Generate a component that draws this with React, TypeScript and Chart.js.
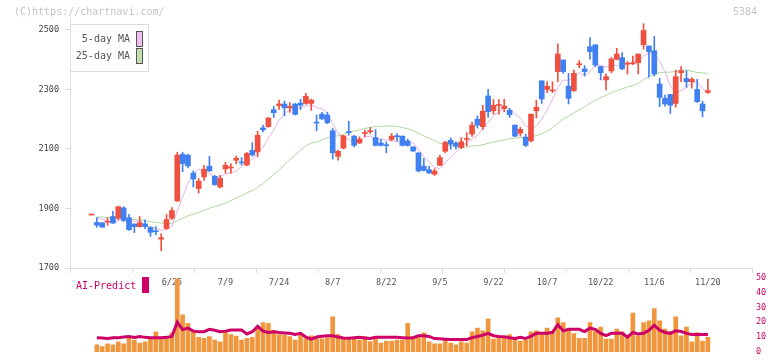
import React, { useEffect, useRef } from 'react';
import { Chart, registerables } from 'chart.js';

Chart.register(...registerables);

// ---------- data ----------
const dates = ['6/4','6/5','6/6','6/9','6/10','6/11','6/12','6/13','6/16','6/17','6/18','6/19','6/20','6/23','6/24','6/25','6/26','6/27','6/30','7/1','7/2','7/3','7/4','7/7','7/8','7/9','7/10','7/11','7/14','7/15','7/16','7/17','7/18','7/22','7/23','7/24','7/25','7/28','7/29','7/30','7/31','8/1','8/4','8/5','8/6','8/7','8/8','8/12','8/13','8/14','8/15','8/18','8/19','8/20','8/21','8/22','8/25','8/26','8/27','8/28','8/29','9/1','9/2','9/3','9/4','9/5','9/8','9/9','9/10','9/11','9/12','9/16','9/17','9/18','9/19','9/22','9/24','9/25','9/26','9/29','9/30','10/1','10/2','10/3','10/6','10/7','10/8','10/9','10/10','10/14','10/15','10/16','10/17','10/20','10/21','10/22','10/23','10/24','10/27','10/28','10/29','10/30','10/31','11/4','11/5','11/6','11/7','11/10','11/11','11/12','11/13','11/14','11/17','11/18','11/19','11/20'];

const open = [
  1878,1853,1852,1854,1873,1867,1902,1869,1848,1839,
  1848,1836,1823,1797,1833,1867,1925,2082,2079,2019,
  1967,2006,2042,2008,1972,2033,2036,2062,2055,2046,
  2095,2090,2171,2175,2232,2245,2251,2238,2251,2254,
  2253,2253,2189,2217,2214,2161,2075,2103,2158,2143,
  2120,2152,2158,2138,2120,2113,2132,2143,2143,2127,
  2107,2087,2042,2030,2015,2045,2092,2129,2120,2105,
  2132,2150,2200,2175,2278,2228,2246,2236,2230,2180,
  2153,2140,2127,2228,2329,2300,2295,2360,2399,2311,
  2296,2383,2369,2444,2450,2377,2332,2362,2401,2407,
  2385,2386,2390,2450,2446,2430,2318,2270,2283,2253,
  2356,2337,2326,2300,2251,2290,
];
const high = [
  1880,1869,1852,1869,1890,1906,1906,1880,1848,1873,
  1862,1839,1839,1815,1880,1903,2089,2089,2083,2026,
  2001,2045,2075,2011,2011,2055,2051,2076,2071,2088,
  2121,2160,2180,2206,2243,2264,2261,2256,2253,2267,
  2287,2268,2214,2223,2223,2169,2096,2146,2193,2146,
  2141,2163,2172,2165,2132,2124,2152,2152,2144,2133,
  2107,2087,2068,2042,2034,2079,2126,2137,2124,2138,
  2155,2190,2211,2247,2300,2266,2266,2267,2236,2181,
  2173,2150,2217,2264,2329,2326,2326,2453,2399,2354,
  2365,2397,2380,2474,2450,2377,2352,2408,2438,2424,
  2394,2412,2419,2521,2446,2478,2337,2281,2283,2365,
  2377,2363,2340,2334,2261,2335,
];
const low = [
  1878,1837,1837,1843,1850,1862,1856,1826,1819,1837,
  1832,1806,1812,1758,1830,1862,1924,2023,2036,1972,
  1952,1994,2025,1978,1969,2019,2019,2050,2046,2044,
  2076,2073,2157,2173,2206,2233,2211,2223,2214,2232,
  2250,2230,2161,2199,2185,2066,2062,2101,2146,2107,
  2118,2141,2152,2110,2109,2087,2127,2127,2110,2109,
  2092,2023,2026,2018,2011,2044,2087,2099,2099,2101,
  2110,2142,2170,2165,2206,2217,2217,2225,2206,2141,
  2143,2108,2124,2204,2253,2289,2289,2326,2354,2251,
  2293,2373,2345,2402,2377,2332,2298,2356,2399,2366,
  2352,2383,2352,2435,2341,2345,2242,2244,2219,2240,
  2326,2307,2304,2256,2208,2287,
];
const close = [
  1880,1844,1837,1855,1851,1906,1860,1829,1839,1852,
  1839,1820,1822,1802,1863,1893,2079,2051,2043,1999,
  1992,2032,2026,1980,2001,2045,2037,2069,2053,2085,
  2080,2146,2164,2204,2222,2251,2238,2243,2216,2247,
  2277,2264,2187,2201,2188,2087,2092,2144,2155,2112,
  2133,2155,2160,2112,2112,2111,2143,2141,2112,2112,
  2093,2026,2028,2019,2026,2071,2122,2116,2109,2124,
  2134,2180,2180,2227,2225,2247,2247,2244,2215,2143,
  2166,2112,2217,2240,2268,2311,2296,2419,2360,2270,
  2354,2384,2360,2427,2382,2356,2343,2402,2419,2369,
  2387,2387,2419,2498,2427,2352,2273,2251,2247,2343,
  2363,2326,2334,2259,2228,2296,
];
const ma5 = [
  null,1868,1864,1858,1853,1859,1862,1860,1857,1857,
  1844,1836,1834,1827,1829,1840,1892,1938,1986,2013,
  2033,2023,2018,2006,2006,2017,2018,2026,2041,2058,
  2065,2087,2106,2136,2163,2197,2216,2232,2234,2239,
  2244,2249,2238,2235,2223,2185,2151,2142,2133,2118,
  2127,2140,2143,2134,2134,2130,2128,2124,2124,2124,
  2120,2097,2074,2056,2038,2034,2053,2071,2089,2108,
  2121,2133,2145,2169,2189,2212,2225,2238,2236,2219,
  2203,2176,2171,2176,2201,2230,2266,2307,2331,2331,
  2340,2357,2346,2359,2381,2382,2374,2382,2380,2378,
  2384,2393,2396,2412,2424,2417,2394,2360,2310,2293,
  2295,2306,2323,2325,2302,2289,
];
const ma25 = [
  null,1872,1871,1870,1869,1868,1866,1865,1863,1861,
  1859,1856,1853,1851,1850,1850,1859,1867,1875,1881,
  1887,1894,1901,1906,1912,1918,1926,1935,1943,1953,
  1960,1971,1984,1999,2014,2030,2047,2064,2080,2096,
  2111,2119,2124,2130,2138,2142,2144,2149,2156,2160,
  2164,2169,2172,2175,2176,2177,2177,2176,2172,2168,
  2161,2153,2144,2136,2128,2119,2114,2111,2107,2105,
  2106,2110,2111,2114,2119,2123,2127,2130,2135,2136,
  2138,2137,2140,2145,2151,2160,2171,2186,2200,2210,
  2221,2232,2241,2254,2264,2273,2280,2289,2296,2302,
  2308,2313,2320,2332,2343,2350,2357,2358,2358,2361,
  2364,2365,2361,2357,2356,2353,
];
const volume = [
  null,4.8,3.6,5.4,4.8,6.8,5.4,9.6,7.9,6.0,
  6.8,9.2,13.6,9.8,10.4,12.9,49.2,25.0,19.2,13.8,
  9.8,9.2,10.4,7.9,6.8,13.6,11.7,10.7,7.9,9.2,
  9.8,15.4,19.8,19.2,14.6,11.7,11.3,10.4,7.9,12.2,
  8.8,10.8,8.8,8.8,9.6,23.6,11.7,9.8,8.8,8.8,
  7.9,10.4,6.9,8.8,6.0,7.3,7.3,7.9,7.9,19.2,
  10.4,9.6,12.9,6.8,5.4,5.4,8.3,6.0,4.8,6.8,
  6.0,13.6,16.1,14.2,22.3,8.6,9.8,9.8,11.7,8.6,
  7.3,7.9,13.6,14.2,11.7,16.1,13.6,22.9,19.8,14.8,
  12.3,9.2,9.2,19.8,14.2,16.7,8.6,8.6,15.4,13.6,
  10.4,26.1,10.9,19.8,21.0,29.2,21.0,15.4,13.6,23.6,
  10.9,16.7,6.8,13.1,7.3,9.8,
];
const aiPredict = [
  null,9.6,9.4,9.0,9.6,9.6,10.0,10.4,9.8,10.4,
  9.8,9.6,9.6,9.6,9.8,10.4,20.0,15.0,16.0,14.0,
  13.6,13.6,15.2,14.6,13.6,14.0,14.8,14.8,14.8,12.1,
  13.6,17.2,14.0,13.1,13.6,13.1,12.8,12.5,11.7,12.5,
  10.0,8.6,10.0,10.5,10.9,10.9,10.0,9.4,9.2,9.6,
  9.8,9.4,9.0,9.8,9.8,9.8,9.8,9.8,9.6,9.4,
  9.6,10.9,10.9,10.4,9.0,8.8,8.6,8.4,8.4,8.4,
  8.4,9.6,10.4,11.3,12.5,10.9,10.4,10.2,9.5,9.0,
  9.8,9.0,10.6,12.5,12.5,12.5,13.2,18.4,14.2,15.2,
  15.2,15.2,13.7,16.0,15.2,12.5,11.0,12.5,12.5,12.5,
  10.0,13.1,12.1,12.5,14.6,18.0,14.6,13.1,12.5,14.2,
  13.7,12.5,11.7,11.7,11.7,11.7,
];
const tickDates = ['6/25','7/9','7/24','8/7','8/22','9/5','9/22','10/7','10/22','11/6','11/20'];
const priceTicks = [1700, 1900, 2100, 2300, 2500];
const aiTicks = [0, 10, 20, 30, 40, 50];
const watermark = '(C)https://chartnavi.com/';
const stockCode = '5384';

// ---------- styles ----------
const FONT = "'DejaVu Sans Mono', 'Liberation Mono', monospace";
const UP = '#f05040';
const DOWN = '#4080f0';
const AXIS = '#dcdcdc';
const X_MIN = -4.01;
const X_MAX = 123.23;

export default function App() {
  const topRef = useRef<HTMLCanvasElement>(null);
  const botRef = useRef<HTMLCanvasElement>(null);

  useEffect(() => {
    const colors = close.map((c, i) => (c >= open[i] ? UP : DOWN));
    const labelIdx = new Map<number, string>();
    tickDates.forEach((d) => labelIdx.set(dates.indexOf(d), d));
    const markVals = Array.from({ length: 12 }, (_, k) => X_MIN + (k * (X_MAX - X_MIN)) / 11);

    const topDecor = {
      id: 'topDecor',
      afterDraw(chart: any) {
        const ctx = chart.ctx as CanvasRenderingContext2D;
        ctx.save();
        ctx.font = `10px ${FONT}`;
        ctx.textBaseline = 'middle';
        ctx.fillStyle = '#c4c4c4';
        ctx.textAlign = 'left';
        ctx.fillText(watermark, 14, 12);
        ctx.textAlign = 'right';
        ctx.fillText(stockCode, 757, 12);
        // legend box
        ctx.fillStyle = '#ffffff';
        ctx.fillRect(70, 24, 78, 47);
        ctx.strokeStyle = AXIS;
        ctx.lineWidth = 1;
        ctx.strokeRect(70.5, 24.5, 78, 47);
        const items = [
          { label: chart.data.datasets[2].label, fill: '#f0c0f0', y: 31 },
          { label: chart.data.datasets[3].label, fill: '#c0e0b0', y: 48 },
        ];
        items.forEach((it) => {
          ctx.fillStyle = '#555';
          ctx.textAlign = 'right';
          ctx.fillText(it.label, 130, it.y + 8.5);
          ctx.fillStyle = it.fill;
          ctx.fillRect(136.5, it.y + 0.5, 6, 15);
          ctx.strokeStyle = '#555';
          ctx.strokeRect(136.5, it.y + 0.5, 6, 15);
        });
        ctx.restore();
      },
    };

    const botDecor = {
      id: 'botDecor',
      afterDraw(chart: any) {
        const ctx = chart.ctx as CanvasRenderingContext2D;
        ctx.save();
        ctx.font = `10px ${FONT}`;
        ctx.textBaseline = 'middle';
        ctx.textAlign = 'left';
        ctx.fillStyle = '#cc0066';
        ctx.fillText(chart.data.datasets[0].label, 76, 18);
        ctx.fillRect(142, 9, 7, 16);
        ctx.restore();
      },
    };

    const top = new Chart(topRef.current!, {
      type: 'bar',
      data: {
        datasets: [
          {
            type: 'bar',
            label: 'body',
            data: open.map((o, i) => ({ x: i, y: [o, close[i]] })) as any,
            backgroundColor: colors,
            barThickness: 5,
            minBarLength: 1,
            grouped: false,
            order: 1,
          },
          {
            type: 'bar',
            label: 'wick',
            data: low.map((l, i) => ({ x: i, y: [l, high[i]] })) as any,
            backgroundColor: colors,
            barThickness: 1,
            grouped: false,
            order: 2,
          },
          {
            type: 'line',
            label: '5-day MA',
            data: ma5.map((v, i) => ({ x: i, y: v })) as any,
            borderColor: '#e8b0e8',
            borderWidth: 1,
            pointRadius: 0,
            tension: 0,
            order: 3,
          },
          {
            type: 'line',
            label: '25-day MA',
            data: ma25.map((v, i) => ({ x: i, y: v })) as any,
            borderColor: '#b0d8a0',
            borderWidth: 1,
            pointRadius: 0,
            tension: 0,
            order: 4,
          },
        ],
      },
      options: {
        responsive: false,
        animation: false,
        devicePixelRatio: 1,
        events: [],
        layout: { padding: { left: 0, right: 20, top: 18, bottom: 0 } },
        plugins: { legend: { display: false }, tooltip: { enabled: false } },
        scales: {
          x: {
            type: 'linear',
            min: X_MIN,
            max: X_MAX,
            offset: false,
            afterBuildTicks: (s: any) => {
              s.ticks = [
                ...markVals.map((v) => ({ value: v })),
                ...Array.from(labelIdx.keys()).map((v) => ({ value: v })),
              ];
            },
            afterFit: (s: any) => {
              s.height = 22;
            },
            ticks: {
              autoSkip: false,
              maxRotation: 0,
              minRotation: 0,
              padding: 5,
              color: '#555',
              font: { family: FONT, size: 8.5 },
              callback: (v: any) => labelIdx.get(v) ?? '',
            },
            grid: {
              offset: false,
              drawOnChartArea: false,
              tickLength: 5,
              color: (ctx: any) =>
                ctx.tick && labelIdx.has(ctx.tick.value) ? 'rgba(0,0,0,0)' : AXIS,
            },
            border: { display: true, color: AXIS },
          },
          y: {
            type: 'linear',
            position: 'left',
            min: 1700,
            max: 2540,
            afterBuildTicks: (s: any) => {
              s.ticks = priceTicks.map((v) => ({ value: v }));
            },
            afterFit: (s: any) => {
              s.width = 70;
            },
            ticks: {
              color: '#444',
              padding: 6,
              font: { family: FONT, size: 8.5 },
              callback: (v: any) => String(v),
            },
            grid: { drawOnChartArea: false, tickLength: 5, color: AXIS },
            border: { display: true, color: AXIS },
          },
        },
      } as any,
      plugins: [topDecor],
    });

    const bot = new Chart(botRef.current!, {
      type: 'bar',
      data: {
        datasets: [
          {
            type: 'line',
            label: 'AI-Predict',
            data: aiPredict.map((v, i) => ({ x: i, y: v })) as any,
            borderColor: '#cc0066',
            borderWidth: 3,
            pointRadius: 0,
            tension: 0,
            order: 1,
          },
          {
            type: 'bar',
            label: 'Volume',
            data: volume.map((v, i) => ({ x: i, y: v })) as any,
            backgroundColor: '#f0963c',
            barThickness: 4,
            grouped: false,
            order: 2,
          },
        ],
      },
      options: {
        responsive: false,
        animation: false,
        devicePixelRatio: 1,
        events: [],
        layout: { padding: { left: 70, right: 0, top: 9.7, bottom: 3.3 } },
        plugins: { legend: { display: false }, tooltip: { enabled: false } },
        scales: {
          x: { type: 'linear', min: X_MIN, max: X_MAX, offset: false, display: false, grid: { offset: false } },
          y: {
            type: 'linear',
            position: 'right',
            min: 0,
            max: 50,
            afterBuildTicks: (s: any) => {
              s.ticks = aiTicks.map((v) => ({ value: v }));
            },
            afterFit: (s: any) => {
              s.width = 20;
            },
            ticks: {
              color: '#cc0066',
              padding: 4,
              font: { family: FONT, size: 8.5 },
              callback: (v: any) => String(v),
            },
            grid: { display: false, drawTicks: false },
            border: { display: false },
          },
        },
      } as any,
      plugins: [botDecor],
    });

    return () => {
      top.destroy();
      bot.destroy();
    };
  }, []);

  return (
    <div style={{ position: 'fixed', left: 0, top: 0, width: 772, height: 361, background: '#fff' }}>
      <canvas
        ref={topRef}
        width={772}
        height={290}
        style={{ position: 'absolute', left: 0, top: 0, width: 772, height: 290 }}
      />
      <canvas
        ref={botRef}
        width={772}
        height={93}
        style={{ position: 'absolute', left: 0, top: 268, width: 772, height: 93 }}
      />
    </div>
  );
}
